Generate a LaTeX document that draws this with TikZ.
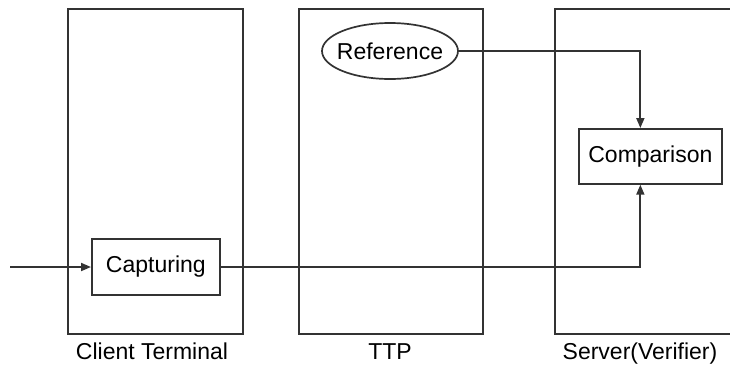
\documentclass[tikz,border=0pt]{standalone}
\usepackage{fontspec}
\setmainfont{Liberation Sans}
\usetikzlibrary{shapes.geometric,arrows.meta}
\begin{document}
\begin{tikzpicture}[x=1pt,y=-1pt,
  font=\fontsize{23}{26}\selectfont,
  frame/.style={draw=black!80,line width=1.7pt},
  zone/.style={frame,rectangle,inner sep=0pt,anchor=north west},
  block/.style={frame,rectangle,inner sep=0pt,anchor=north west,fill=white},
  oval/.style={frame,ellipse,inner xsep=-22pt,inner ysep=-6pt,fill=white},
  link/.style={draw=black!80,line width=1.8pt,-{Triangle[length=10pt,width=8pt]}},
  caption/.style={anchor=base,inner sep=0pt}]
  \useasboundingbox (0,0) rectangle (730,365);
  \clip (0,0) rectangle (730,365);

  % the three parties
  \node[zone,minimum width=175pt,minimum height=325pt] (client) at (67,8) {};
  \node[zone,minimum width=184pt,minimum height=325pt] (ttp) at (298,8) {};
  \node[zone,minimum width=220pt,minimum height=325pt] (server) at (554,8) {};

  % captions below the parties
  \node[caption] (clientlbl) at (152,359) {Client Terminal};
  \node[caption] (ttplbl) at (390,359) {TTP};
  \node[caption] (serverlbl) at (640,359) {Server(Verifier)};

  % functional blocks
  \node[block,minimum width=143pt,minimum height=55pt] (compare) at (578,128) {Comparison};
  \node[block,minimum width=128pt,minimum height=56pt] (capture) at (91,238) {Capturing};
  \node[oval,minimum width=136pt,minimum height=56pt] (ref) at (390,51) {Reference};

  % data flow
  \coordinate (input) at (10,267);
  \coordinate (topin) at ([xshift=-10pt]compare.north);
  \coordinate (botin) at ([xshift=-10pt]compare.south);
  \draw[link] (input) -- (input -| capture.west);
  \draw[link] (ref.east) -| (topin);
  \draw[link] (capture.east |- input) -| (botin);
\end{tikzpicture}
\end{document}
